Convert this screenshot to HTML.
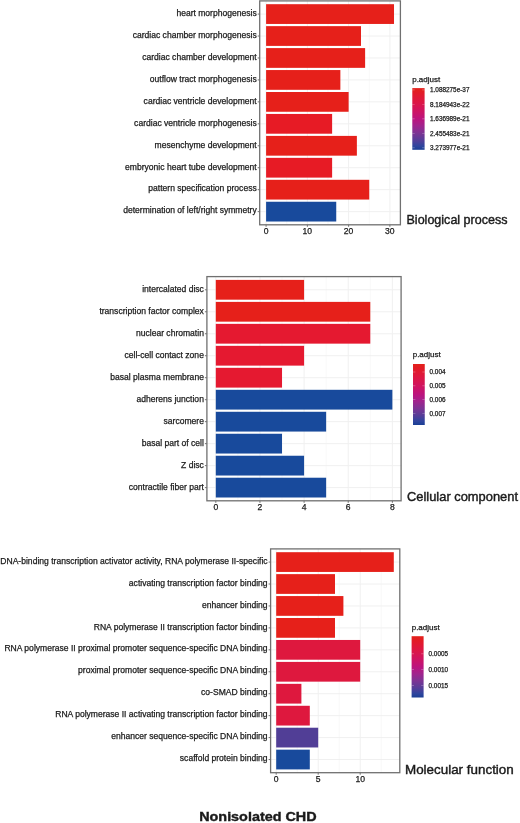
<!DOCTYPE html>
<html><head><meta charset="utf-8"><style>
html,body{margin:0;padding:0;background:#fff;width:520px;height:823px;overflow:hidden}
svg{display:block;will-change:transform;font-family:"Liberation Sans",sans-serif;fill:#1a1a1a}
text{stroke:#1a1a1a;stroke-width:0.25px}
.big{stroke-width:0.4px}
</style></head><body>
<svg width="520" height="823" viewBox="0 0 520 823">
<defs><linearGradient id="g" x1="0" y1="0" x2="0" y2="1"><stop offset="0" stop-color="#E4211C"/><stop offset="0.03" stop-color="#E3201E"/><stop offset="0.08" stop-color="#E21B28"/><stop offset="0.225" stop-color="#DD1744"/><stop offset="0.37" stop-color="#CF1462"/><stop offset="0.5" stop-color="#BC147E"/><stop offset="0.615" stop-color="#A0248E"/><stop offset="0.73" stop-color="#7C3494"/><stop offset="0.84" stop-color="#573D98"/><stop offset="0.94" stop-color="#2E459E"/><stop offset="1" stop-color="#1A3E94"/></linearGradient></defs><g><line x1="286.73" y1="0.9" x2="286.73" y2="224.8" stroke="#F0F0F0" stroke-width="0.5"/><line x1="327.99" y1="0.9" x2="327.99" y2="224.8" stroke="#F0F0F0" stroke-width="0.5"/><line x1="369.25" y1="0.9" x2="369.25" y2="224.8" stroke="#F0F0F0" stroke-width="0.5"/><line x1="266.1" y1="0.9" x2="266.1" y2="224.8" stroke="#F0F0F0" stroke-width="1"/><line x1="307.36" y1="0.9" x2="307.36" y2="224.8" stroke="#F0F0F0" stroke-width="1"/><line x1="348.62" y1="0.9" x2="348.62" y2="224.8" stroke="#F0F0F0" stroke-width="1"/><line x1="389.88" y1="0.9" x2="389.88" y2="224.8" stroke="#F0F0F0" stroke-width="1"/><line x1="259.7" y1="14.07" x2="400.4" y2="14.07" stroke="#F0F0F0" stroke-width="1"/><line x1="259.7" y1="36.02" x2="400.4" y2="36.02" stroke="#F0F0F0" stroke-width="1"/><line x1="259.7" y1="57.97" x2="400.4" y2="57.97" stroke="#F0F0F0" stroke-width="1"/><line x1="259.7" y1="79.92" x2="400.4" y2="79.92" stroke="#F0F0F0" stroke-width="1"/><line x1="259.7" y1="101.87" x2="400.4" y2="101.87" stroke="#F0F0F0" stroke-width="1"/><line x1="259.7" y1="123.83" x2="400.4" y2="123.83" stroke="#F0F0F0" stroke-width="1"/><line x1="259.7" y1="145.78" x2="400.4" y2="145.78" stroke="#F0F0F0" stroke-width="1"/><line x1="259.7" y1="167.73" x2="400.4" y2="167.73" stroke="#F0F0F0" stroke-width="1"/><line x1="259.7" y1="189.68" x2="400.4" y2="189.68" stroke="#F0F0F0" stroke-width="1"/><line x1="259.7" y1="211.63" x2="400.4" y2="211.63" stroke="#F0F0F0" stroke-width="1"/><rect x="266.1" y="4.19" width="127.91" height="19.76" fill="#E6201A"/><rect x="266.1" y="26.14" width="94.9" height="19.76" fill="#E6201A"/><rect x="266.1" y="48.09" width="99.02" height="19.76" fill="#E6201A"/><rect x="266.1" y="70.05" width="74.27" height="19.76" fill="#E6201A"/><rect x="266.1" y="92" width="82.52" height="19.76" fill="#E6201A"/><rect x="266.1" y="113.95" width="66.02" height="19.76" fill="#E71B25"/><rect x="266.1" y="135.9" width="90.77" height="19.76" fill="#E6201A"/><rect x="266.1" y="157.85" width="66.02" height="19.76" fill="#E71B25"/><rect x="266.1" y="179.8" width="103.15" height="19.76" fill="#E6201A"/><rect x="266.1" y="201.75" width="70.14" height="19.76" fill="#184A9C"/><rect x="259.7" y="0.9" width="140.7" height="223.9" fill="none" stroke="#707070" stroke-width="1.3"/><line x1="257.7" y1="14.07" x2="259.7" y2="14.07" stroke="#707070" stroke-width="1"/><text x="256.7" y="15.87" text-anchor="end" font-size="8.56">heart morphogenesis</text><line x1="257.7" y1="36.02" x2="259.7" y2="36.02" stroke="#707070" stroke-width="1"/><text x="256.7" y="37.82" text-anchor="end" font-size="8.56">cardiac chamber morphogenesis</text><line x1="257.7" y1="57.97" x2="259.7" y2="57.97" stroke="#707070" stroke-width="1"/><text x="256.7" y="59.77" text-anchor="end" font-size="8.56">cardiac chamber development</text><line x1="257.7" y1="79.92" x2="259.7" y2="79.92" stroke="#707070" stroke-width="1"/><text x="256.7" y="81.72" text-anchor="end" font-size="8.56">outflow tract morphogenesis</text><line x1="257.7" y1="101.87" x2="259.7" y2="101.87" stroke="#707070" stroke-width="1"/><text x="256.7" y="103.67" text-anchor="end" font-size="8.56">cardiac ventricle development</text><line x1="257.7" y1="123.83" x2="259.7" y2="123.83" stroke="#707070" stroke-width="1"/><text x="256.7" y="125.63" text-anchor="end" font-size="8.56">cardiac ventricle morphogenesis</text><line x1="257.7" y1="145.78" x2="259.7" y2="145.78" stroke="#707070" stroke-width="1"/><text x="256.7" y="147.58" text-anchor="end" font-size="8.56">mesenchyme development</text><line x1="257.7" y1="167.73" x2="259.7" y2="167.73" stroke="#707070" stroke-width="1"/><text x="256.7" y="169.53" text-anchor="end" font-size="8.56">embryonic heart tube development</text><line x1="257.7" y1="189.68" x2="259.7" y2="189.68" stroke="#707070" stroke-width="1"/><text x="256.7" y="191.48" text-anchor="end" font-size="8.56">pattern specification process</text><line x1="257.7" y1="211.63" x2="259.7" y2="211.63" stroke="#707070" stroke-width="1"/><text x="256.7" y="213.43" text-anchor="end" font-size="8.56">determination of left/right symmetry</text><line x1="266.1" y1="224.8" x2="266.1" y2="226.8" stroke="#707070" stroke-width="1"/><text x="266.1" y="234.05" text-anchor="middle" font-size="8.56">0</text><line x1="307.36" y1="224.8" x2="307.36" y2="226.8" stroke="#707070" stroke-width="1"/><text x="307.36" y="234.05" text-anchor="middle" font-size="8.56">10</text><line x1="348.62" y1="224.8" x2="348.62" y2="226.8" stroke="#707070" stroke-width="1"/><text x="348.62" y="234.05" text-anchor="middle" font-size="8.56">20</text><line x1="389.88" y1="224.8" x2="389.88" y2="226.8" stroke="#707070" stroke-width="1"/><text x="389.88" y="234.05" text-anchor="middle" font-size="8.56">30</text><text x="412.2" y="81.6" font-size="8.0">p.adjust</text><rect x="412.3" y="88.1" width="12.3" height="61.7" fill="url(#g)"/><line x1="412.3" y1="89.9" x2="414.7" y2="89.9" stroke="#fff" stroke-width="0.6" opacity="0.45"/><line x1="422.2" y1="89.9" x2="424.6" y2="89.9" stroke="#fff" stroke-width="0.6" opacity="0.45"/><text x="430" y="92.25" font-size="6.4">1.088275e-37</text><line x1="412.3" y1="104.3" x2="414.7" y2="104.3" stroke="#fff" stroke-width="0.6" opacity="0.45"/><line x1="422.2" y1="104.3" x2="424.6" y2="104.3" stroke="#fff" stroke-width="0.6" opacity="0.45"/><text x="430" y="106.65" font-size="6.4">8.184943e-22</text><line x1="412.3" y1="118.8" x2="414.7" y2="118.8" stroke="#fff" stroke-width="0.6" opacity="0.45"/><line x1="422.2" y1="118.8" x2="424.6" y2="118.8" stroke="#fff" stroke-width="0.6" opacity="0.45"/><text x="430" y="121.15" font-size="6.4">1.636989e-21</text><line x1="412.3" y1="133.3" x2="414.7" y2="133.3" stroke="#fff" stroke-width="0.6" opacity="0.45"/><line x1="422.2" y1="133.3" x2="424.6" y2="133.3" stroke="#fff" stroke-width="0.6" opacity="0.45"/><text x="430" y="135.65" font-size="6.4">2.455483e-21</text><line x1="412.3" y1="147.75" x2="414.7" y2="147.75" stroke="#fff" stroke-width="0.6" opacity="0.45"/><line x1="422.2" y1="147.75" x2="424.6" y2="147.75" stroke="#fff" stroke-width="0.6" opacity="0.45"/><text x="430" y="150.1" font-size="6.4">3.273977e-21</text><text x="406.5" y="223.8" font-size="12.4" class="big" textLength="101" lengthAdjust="spacingAndGlyphs">Biological process</text></g><g><line x1="237.87" y1="276.6" x2="237.87" y2="500.8" stroke="#F0F0F0" stroke-width="0.5"/><line x1="282.01" y1="276.6" x2="282.01" y2="500.8" stroke="#F0F0F0" stroke-width="0.5"/><line x1="326.15" y1="276.6" x2="326.15" y2="500.8" stroke="#F0F0F0" stroke-width="0.5"/><line x1="370.29" y1="276.6" x2="370.29" y2="500.8" stroke="#F0F0F0" stroke-width="0.5"/><line x1="215.8" y1="276.6" x2="215.8" y2="500.8" stroke="#F0F0F0" stroke-width="1"/><line x1="259.94" y1="276.6" x2="259.94" y2="500.8" stroke="#F0F0F0" stroke-width="1"/><line x1="304.08" y1="276.6" x2="304.08" y2="500.8" stroke="#F0F0F0" stroke-width="1"/><line x1="348.22" y1="276.6" x2="348.22" y2="500.8" stroke="#F0F0F0" stroke-width="1"/><line x1="392.36" y1="276.6" x2="392.36" y2="500.8" stroke="#F0F0F0" stroke-width="1"/><line x1="206.9" y1="289.79" x2="401.1" y2="289.79" stroke="#F0F0F0" stroke-width="1"/><line x1="206.9" y1="311.77" x2="401.1" y2="311.77" stroke="#F0F0F0" stroke-width="1"/><line x1="206.9" y1="333.75" x2="401.1" y2="333.75" stroke="#F0F0F0" stroke-width="1"/><line x1="206.9" y1="355.73" x2="401.1" y2="355.73" stroke="#F0F0F0" stroke-width="1"/><line x1="206.9" y1="377.71" x2="401.1" y2="377.71" stroke="#F0F0F0" stroke-width="1"/><line x1="206.9" y1="399.69" x2="401.1" y2="399.69" stroke="#F0F0F0" stroke-width="1"/><line x1="206.9" y1="421.67" x2="401.1" y2="421.67" stroke="#F0F0F0" stroke-width="1"/><line x1="206.9" y1="443.65" x2="401.1" y2="443.65" stroke="#F0F0F0" stroke-width="1"/><line x1="206.9" y1="465.63" x2="401.1" y2="465.63" stroke="#F0F0F0" stroke-width="1"/><line x1="206.9" y1="487.61" x2="401.1" y2="487.61" stroke="#F0F0F0" stroke-width="1"/><rect x="215.8" y="279.9" width="88.28" height="19.78" fill="#E6201A"/><rect x="215.8" y="301.88" width="154.49" height="19.78" fill="#E6201A"/><rect x="215.8" y="323.86" width="154.49" height="19.78" fill="#E51930"/><rect x="215.8" y="345.84" width="88.28" height="19.78" fill="#E51930"/><rect x="215.8" y="367.82" width="66.21" height="19.78" fill="#E51930"/><rect x="215.8" y="389.8" width="176.56" height="19.78" fill="#184A9C"/><rect x="215.8" y="411.78" width="110.35" height="19.78" fill="#184A9C"/><rect x="215.8" y="433.76" width="66.21" height="19.78" fill="#184A9C"/><rect x="215.8" y="455.74" width="88.28" height="19.78" fill="#184A9C"/><rect x="215.8" y="477.72" width="110.35" height="19.78" fill="#184A9C"/><rect x="206.9" y="276.6" width="194.2" height="224.2" fill="none" stroke="#707070" stroke-width="1.3"/><line x1="204.9" y1="289.79" x2="206.9" y2="289.79" stroke="#707070" stroke-width="1"/><text x="203.9" y="291.99" text-anchor="end" font-size="8.56">intercalated disc</text><line x1="204.9" y1="311.77" x2="206.9" y2="311.77" stroke="#707070" stroke-width="1"/><text x="203.9" y="313.97" text-anchor="end" font-size="8.56">transcription factor complex</text><line x1="204.9" y1="333.75" x2="206.9" y2="333.75" stroke="#707070" stroke-width="1"/><text x="203.9" y="335.95" text-anchor="end" font-size="8.56">nuclear chromatin</text><line x1="204.9" y1="355.73" x2="206.9" y2="355.73" stroke="#707070" stroke-width="1"/><text x="203.9" y="357.93" text-anchor="end" font-size="8.56">cell-cell contact zone</text><line x1="204.9" y1="377.71" x2="206.9" y2="377.71" stroke="#707070" stroke-width="1"/><text x="203.9" y="379.91" text-anchor="end" font-size="8.56">basal plasma membrane</text><line x1="204.9" y1="399.69" x2="206.9" y2="399.69" stroke="#707070" stroke-width="1"/><text x="203.9" y="401.89" text-anchor="end" font-size="8.56">adherens junction</text><line x1="204.9" y1="421.67" x2="206.9" y2="421.67" stroke="#707070" stroke-width="1"/><text x="203.9" y="423.87" text-anchor="end" font-size="8.56">sarcomere</text><line x1="204.9" y1="443.65" x2="206.9" y2="443.65" stroke="#707070" stroke-width="1"/><text x="203.9" y="445.85" text-anchor="end" font-size="8.56">basal part of cell</text><line x1="204.9" y1="465.63" x2="206.9" y2="465.63" stroke="#707070" stroke-width="1"/><text x="203.9" y="467.83" text-anchor="end" font-size="8.56">Z disc</text><line x1="204.9" y1="487.61" x2="206.9" y2="487.61" stroke="#707070" stroke-width="1"/><text x="203.9" y="489.81" text-anchor="end" font-size="8.56">contractile fiber part</text><line x1="215.8" y1="500.8" x2="215.8" y2="502.8" stroke="#707070" stroke-width="1"/><text x="215.8" y="510.05" text-anchor="middle" font-size="8.56">0</text><line x1="259.94" y1="500.8" x2="259.94" y2="502.8" stroke="#707070" stroke-width="1"/><text x="259.94" y="510.05" text-anchor="middle" font-size="8.56">2</text><line x1="304.08" y1="500.8" x2="304.08" y2="502.8" stroke="#707070" stroke-width="1"/><text x="304.08" y="510.05" text-anchor="middle" font-size="8.56">4</text><line x1="348.22" y1="500.8" x2="348.22" y2="502.8" stroke="#707070" stroke-width="1"/><text x="348.22" y="510.05" text-anchor="middle" font-size="8.56">6</text><line x1="392.36" y1="500.8" x2="392.36" y2="502.8" stroke="#707070" stroke-width="1"/><text x="392.36" y="510.05" text-anchor="middle" font-size="8.56">8</text><text x="412.7" y="357.3" font-size="8.0">p.adjust</text><rect x="413" y="364" width="11.75" height="61" fill="url(#g)"/><line x1="413" y1="372" x2="415.4" y2="372" stroke="#fff" stroke-width="0.6" opacity="0.45"/><line x1="422.35" y1="372" x2="424.75" y2="372" stroke="#fff" stroke-width="0.6" opacity="0.45"/><text x="429.5" y="374.35" font-size="6.4">0.004</text><line x1="413" y1="385.75" x2="415.4" y2="385.75" stroke="#fff" stroke-width="0.6" opacity="0.45"/><line x1="422.35" y1="385.75" x2="424.75" y2="385.75" stroke="#fff" stroke-width="0.6" opacity="0.45"/><text x="429.5" y="388.1" font-size="6.4">0.005</text><line x1="413" y1="399.6" x2="415.4" y2="399.6" stroke="#fff" stroke-width="0.6" opacity="0.45"/><line x1="422.35" y1="399.6" x2="424.75" y2="399.6" stroke="#fff" stroke-width="0.6" opacity="0.45"/><text x="429.5" y="401.95" font-size="6.4">0.006</text><line x1="413" y1="413.3" x2="415.4" y2="413.3" stroke="#fff" stroke-width="0.6" opacity="0.45"/><line x1="422.35" y1="413.3" x2="424.75" y2="413.3" stroke="#fff" stroke-width="0.6" opacity="0.45"/><text x="429.5" y="415.65" font-size="6.4">0.007</text><text x="407" y="500.5" font-size="12.4" class="big" textLength="111" lengthAdjust="spacingAndGlyphs">Cellular component</text></g><g><line x1="297.2" y1="548.9" x2="297.2" y2="772.7" stroke="#F0F0F0" stroke-width="0.5"/><line x1="339.2" y1="548.9" x2="339.2" y2="772.7" stroke="#F0F0F0" stroke-width="0.5"/><line x1="381.2" y1="548.9" x2="381.2" y2="772.7" stroke="#F0F0F0" stroke-width="0.5"/><line x1="276.2" y1="548.9" x2="276.2" y2="772.7" stroke="#F0F0F0" stroke-width="1"/><line x1="318.2" y1="548.9" x2="318.2" y2="772.7" stroke="#F0F0F0" stroke-width="1"/><line x1="360.2" y1="548.9" x2="360.2" y2="772.7" stroke="#F0F0F0" stroke-width="1"/><line x1="270.6" y1="562.06" x2="399.8" y2="562.06" stroke="#F0F0F0" stroke-width="1"/><line x1="270.6" y1="584.01" x2="399.8" y2="584.01" stroke="#F0F0F0" stroke-width="1"/><line x1="270.6" y1="605.95" x2="399.8" y2="605.95" stroke="#F0F0F0" stroke-width="1"/><line x1="270.6" y1="627.89" x2="399.8" y2="627.89" stroke="#F0F0F0" stroke-width="1"/><line x1="270.6" y1="649.83" x2="399.8" y2="649.83" stroke="#F0F0F0" stroke-width="1"/><line x1="270.6" y1="671.77" x2="399.8" y2="671.77" stroke="#F0F0F0" stroke-width="1"/><line x1="270.6" y1="693.71" x2="399.8" y2="693.71" stroke="#F0F0F0" stroke-width="1"/><line x1="270.6" y1="715.65" x2="399.8" y2="715.65" stroke="#F0F0F0" stroke-width="1"/><line x1="270.6" y1="737.59" x2="399.8" y2="737.59" stroke="#F0F0F0" stroke-width="1"/><line x1="270.6" y1="759.54" x2="399.8" y2="759.54" stroke="#F0F0F0" stroke-width="1"/><rect x="276.2" y="552.19" width="117.6" height="19.75" fill="#E6201A"/><rect x="276.2" y="574.13" width="58.8" height="19.75" fill="#E6201A"/><rect x="276.2" y="596.07" width="67.2" height="19.75" fill="#E6201A"/><rect x="276.2" y="618.01" width="58.8" height="19.75" fill="#E6201A"/><rect x="276.2" y="639.96" width="84" height="19.75" fill="#DE183E"/><rect x="276.2" y="661.9" width="84" height="19.75" fill="#DE183E"/><rect x="276.2" y="683.84" width="25.2" height="19.75" fill="#DE183E"/><rect x="276.2" y="705.78" width="33.6" height="19.75" fill="#DE183E"/><rect x="276.2" y="727.72" width="42" height="19.75" fill="#513E96"/><rect x="276.2" y="749.66" width="33.6" height="19.75" fill="#184A9C"/><rect x="270.6" y="548.9" width="129.2" height="223.8" fill="none" stroke="#707070" stroke-width="1.3"/><line x1="268.6" y1="562.06" x2="270.6" y2="562.06" stroke="#707070" stroke-width="1"/><text x="267.6" y="563.71" text-anchor="end" font-size="8.56">DNA-binding transcription activator activity, RNA polymerase II-specific</text><line x1="268.6" y1="584.01" x2="270.6" y2="584.01" stroke="#707070" stroke-width="1"/><text x="267.6" y="585.66" text-anchor="end" font-size="8.56">activating transcription factor binding</text><line x1="268.6" y1="605.95" x2="270.6" y2="605.95" stroke="#707070" stroke-width="1"/><text x="267.6" y="607.6" text-anchor="end" font-size="8.56">enhancer binding</text><line x1="268.6" y1="627.89" x2="270.6" y2="627.89" stroke="#707070" stroke-width="1"/><text x="267.6" y="629.54" text-anchor="end" font-size="8.56">RNA polymerase II transcription factor binding</text><line x1="268.6" y1="649.83" x2="270.6" y2="649.83" stroke="#707070" stroke-width="1"/><text x="267.6" y="651.48" text-anchor="end" font-size="8.56">RNA polymerase II proximal promoter sequence-specific DNA binding</text><line x1="268.6" y1="671.77" x2="270.6" y2="671.77" stroke="#707070" stroke-width="1"/><text x="267.6" y="673.42" text-anchor="end" font-size="8.56">proximal promoter sequence-specific DNA binding</text><line x1="268.6" y1="693.71" x2="270.6" y2="693.71" stroke="#707070" stroke-width="1"/><text x="267.6" y="695.36" text-anchor="end" font-size="8.56">co-SMAD binding</text><line x1="268.6" y1="715.65" x2="270.6" y2="715.65" stroke="#707070" stroke-width="1"/><text x="267.6" y="717.3" text-anchor="end" font-size="8.56">RNA polymerase II activating transcription factor binding</text><line x1="268.6" y1="737.59" x2="270.6" y2="737.59" stroke="#707070" stroke-width="1"/><text x="267.6" y="739.24" text-anchor="end" font-size="8.56">enhancer sequence-specific DNA binding</text><line x1="268.6" y1="759.54" x2="270.6" y2="759.54" stroke="#707070" stroke-width="1"/><text x="267.6" y="761.19" text-anchor="end" font-size="8.56">scaffold protein binding</text><line x1="276.2" y1="772.7" x2="276.2" y2="774.7" stroke="#707070" stroke-width="1"/><text x="276.2" y="781.95" text-anchor="middle" font-size="8.56">0</text><line x1="318.2" y1="772.7" x2="318.2" y2="774.7" stroke="#707070" stroke-width="1"/><text x="318.2" y="781.95" text-anchor="middle" font-size="8.56">5</text><line x1="360.2" y1="772.7" x2="360.2" y2="774.7" stroke="#707070" stroke-width="1"/><text x="360.2" y="781.95" text-anchor="middle" font-size="8.56">10</text><text x="411.7" y="629.75" font-size="8.0">p.adjust</text><rect x="411.6" y="636.2" width="12" height="61.3" fill="url(#g)"/><line x1="411.6" y1="653.75" x2="414" y2="653.75" stroke="#fff" stroke-width="0.6" opacity="0.45"/><line x1="421.2" y1="653.75" x2="423.6" y2="653.75" stroke="#fff" stroke-width="0.6" opacity="0.45"/><text x="428.5" y="656.1" font-size="6.4">0.0005</text><line x1="411.6" y1="669.6" x2="414" y2="669.6" stroke="#fff" stroke-width="0.6" opacity="0.45"/><line x1="421.2" y1="669.6" x2="423.6" y2="669.6" stroke="#fff" stroke-width="0.6" opacity="0.45"/><text x="428.5" y="671.95" font-size="6.4">0.0010</text><line x1="411.6" y1="685.6" x2="414" y2="685.6" stroke="#fff" stroke-width="0.6" opacity="0.45"/><line x1="421.2" y1="685.6" x2="423.6" y2="685.6" stroke="#fff" stroke-width="0.6" opacity="0.45"/><text x="428.5" y="687.95" font-size="6.4">0.0015</text><text x="405" y="773.75" font-size="12.4" class="big" textLength="108.75" lengthAdjust="spacingAndGlyphs">Molecular function</text></g><text x="199.2" y="821" font-size="13" class="big" font-weight="bold" textLength="117.4" lengthAdjust="spacingAndGlyphs">Nonisolated CHD</text>
</svg>
</body></html>
